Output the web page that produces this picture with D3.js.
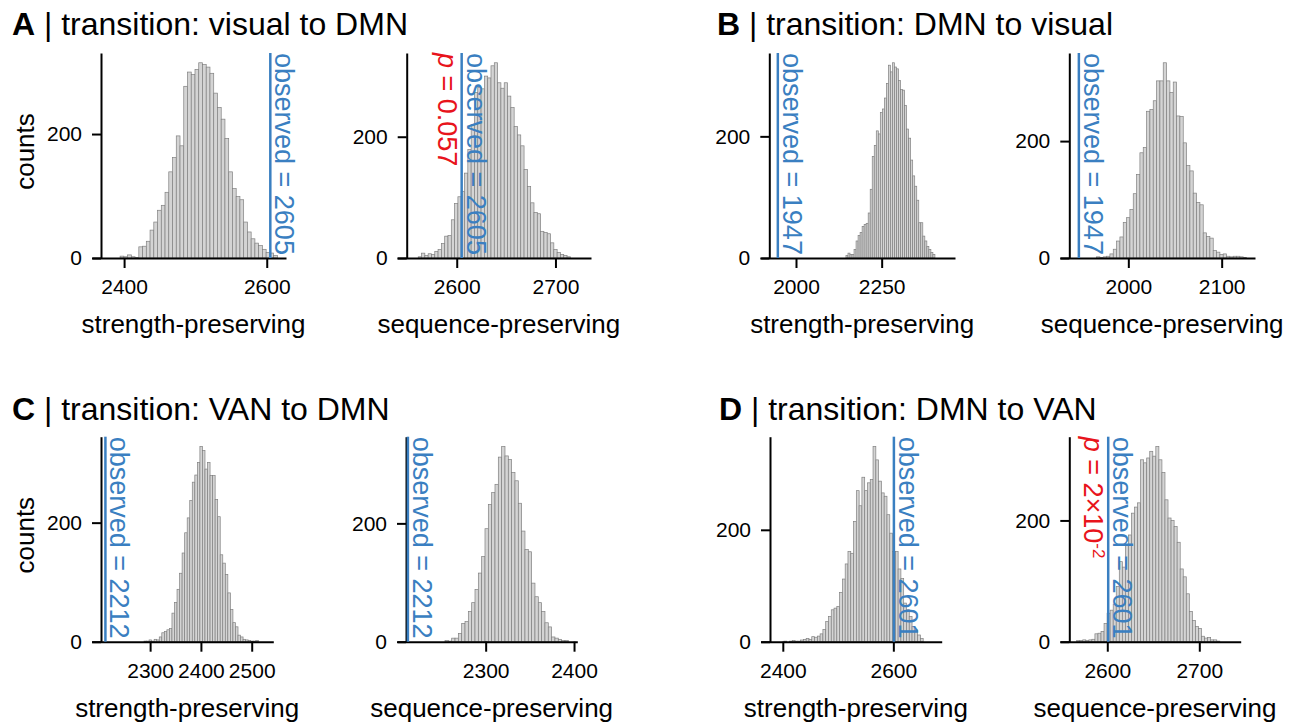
<!DOCTYPE html>
<html>
<head>
<meta charset="utf-8">
<script src="https://cdn.jsdelivr.net/npm/d3@7"></script>
<style>
  body { margin: 0; background: #fff; }
  svg { font-family: "Liberation Sans", Arial, Helvetica, sans-serif; }
</style>
</head>
<body>
<div id="chart"></div>
<script>
const width = 1299;
const height = 725;

// null-model counts per bin
const countsA1 = [3, 2, 5, 2, 1, 18, 19, 27, 45, 58, 77, 85, 106, 139, 162, 197, 181, 277, 300, 296, 304, 315, 312, 308, 298, 266, 243, 224, 193, 139, 112, 99, 94, 58, 42, 31, 24, 20, 14, 9, 8, 4];
const countsA2 = [2, 8, 4, 7, 6, 11, 14, 24, 36, 37, 63, 90, 101, 110, 140, 179, 220, 273, 281, 279, 300, 297, 317, 322, 289, 280, 289, 267, 248, 217, 203, 185, 146, 118, 91, 75, 73, 44, 42, 40, 25, 14, 9, 6, 4, 2];
const countsB1 = [4, 8, 6, 6, 14, 28, 37, 42, 52, 55, 57, 74, 113, 167, 185, 209, 204, 239, 245, 263, 287, 317, 306, 321, 314, 311, 292, 277, 276, 251, 212, 197, 161, 135, 118, 95, 58, 58, 36, 28, 19, 14, 9, 6];
const countsB2 = [2, 1, 2, 3, 7, 15, 29, 36, 61, 69, 83, 110, 143, 180, 189, 251, 254, 269, 303, 303, 334, 303, 283, 301, 243, 242, 197, 158, 149, 111, 95, 91, 43, 37, 34, 13, 10, 6, 7, 3, 2, 3, 3, 2, 1];
const countsC1 = [1, 1, 3, 1, 4, 3, 8, 15, 17, 20, 22, 48, 66, 88, 115, 149, 183, 208, 237, 268, 280, 301, 328, 321, 290, 301, 279, 279, 239, 210, 146, 132, 113, 82, 54, 32, 25, 11, 8, 4, 3, 2, 1, 1, 2];
const countsC2 = [2, 1, 6, 6, 14, 31, 34, 51, 66, 88, 116, 144, 191, 232, 252, 266, 312, 330, 314, 308, 286, 272, 234, 187, 156, 152, 99, 76, 66, 51, 32, 25, 8, 6, 4, 2, 2];
const countsD1 = [1, 0, 1, 2, 1, 1, 3, 4, 6, 4, 9, 8, 10, 14, 22, 36, 45, 57, 60, 63, 88, 112, 139, 161, 158, 215, 270, 243, 294, 270, 284, 290, 349, 325, 287, 266, 260, 227, 194, 161, 161, 130, 113, 69, 57, 45, 27, 21, 12, 6];
const countsD2 = [2, 2, 3, 2, 3, 4, 13, 14, 17, 30, 47, 52, 62, 91, 132, 123, 160, 176, 212, 222, 229, 300, 295, 303, 314, 306, 322, 300, 279, 234, 204, 200, 190, 164, 120, 107, 79, 50, 35, 25, 22, 9, 6, 7, 3, 3, 1];

const allCounts = [countsA1, countsA2, countsB1, countsB2, countsC1, countsC2, countsD1, countsD2];
const binStarts = [2394.4, 2561, 2145.8, 1966, 2288, 2254, 2402, 2566.7];
const binWidths = [5.25, 3.35, 5.9, 3.57, 5.0, 3.77, 5.04, 3.31];
const observed = [2605, 2605, 1947, 1947, 2212, 2212, 2601, 2601];
const xDomains = [[2355, 2627], [2539.5, 2736], [1897, 2464], [1926.8, 2135.7], [2185, 2542.5], [2200, 2403.7], [2360, 2687.5], [2548.6, 2745]];
const xTicks = [[2400, 2600], [2600, 2700], [2000, 2250], [2000, 2100], [2300, 2400, 2500], [2300, 2400], [2400, 2600], [2600, 2700]];
const yTicks = [0, 200];
const xLabels = ["strength-preserving", "sequence-preserving"];
const pValues = [null, "0.057", null, null, null, null, null, "2×10"];
const pExponents = [null, null, null, null, null, null, null, "-2"];
const panelLetters = ["A", "B", "C", "D"];
const panelTitles = ["transition: visual to DMN", "transition: DMN to visual", "transition: VAN to DMN", "transition: DMN to VAN"];

const blue = "#3a7fc1";
const red = "#e8141c";

// axes frames: [spine x, axis left, axis right]
const frames = [
  [101, 92, 286], [406.7, 397, 591], [769.3, 760.7, 955], [1069.3, 1060, 1255],
  [101, 91.7, 273.3], [406, 397.3, 577.3], [770, 760.7, 941.7], [1069.3, 1060, 1240.7]
];
const rows = [{ top: 53, base: 258 }, { top: 436.7, base: 641.7 }];
const titlePos = [[12, 35], [717, 35], [12, 420], [719, 420]];

const svg = d3.select("#chart").append("svg").attr("width", width).attr("height", height);

// panel titles
panelLetters.forEach((letter, i) => {
  const t = svg.append("text")
    .attr("x", titlePos[i][0]).attr("y", titlePos[i][1])
    .attr("font-size", 32).attr("fill", "#000");
  t.append("tspan").attr("font-weight", "bold").text(letter);
  t.append("tspan").text(" | " + panelTitles[i]);
});

allCounts.forEach((counts, i) => {
  const [spineX, left, right] = frames[i];
  const row = rows[Math.floor(i / 4)];

  const x = d3.scaleLinear().domain(xDomains[i]).range([left, right]);
  const y = d3.scaleLinear().domain([0, d3.max(counts) * 1.05]).range([row.base, row.top]);

  const g = svg.append("g");

  // histogram bars
  g.selectAll("rect")
    .data(counts)
    .enter()
    .append("rect")
    .attr("x", (d, k) => x(binStarts[i] + k * binWidths[i]))
    .attr("y", (d) => y(d))
    .attr("width", x(binWidths[i]) - x(0))
    .attr("height", (d) => row.base - y(d))
    .attr("fill", "#d4d4d4")
    .attr("stroke", "#808080")
    .attr("stroke-width", 0.7);

  // axes
  const xAxis = d3.axisBottom(x).tickValues(xTicks[i]).tickSize(10).tickSizeOuter(0).tickPadding(11).tickFormat(d3.format("d"));
  const yAxis = d3.axisLeft(y).tickValues(yTicks).tickSize(9).tickSizeOuter(0).tickPadding(10);

  const gx = g.append("g").attr("transform", `translate(0,${row.base})`).call(xAxis);
  const gy = g.append("g").attr("transform", `translate(${spineX},0)`).call(yAxis);
  [gx, gy].forEach((ax) => {
    ax.attr("font-size", 21).attr("font-family", null);
    ax.select(".domain").attr("stroke-width", 2);
    ax.selectAll(".tick line").attr("stroke-width", 2);
    ax.selectAll(".tick text").attr("fill", "#000");
  });

  // x label
  g.append("text")
    .attr("x", (spineX + right) / 2)
    .attr("y", row.base + 75)
    .attr("text-anchor", "middle")
    .attr("font-size", 26)
    .text(xLabels[i % 2]);

  // y label on first column only
  if (i % 4 === 0) {
    g.append("text")
      .attr("transform", `translate(34,${(row.top + row.base) / 2 - 4}) rotate(-90)`)
      .attr("text-anchor", "middle")
      .attr("font-size", 26)
      .text("counts");
  }

  // observed value line
  const ox = x(observed[i]);
  g.append("line")
    .attr("x1", ox).attr("x2", ox)
    .attr("y1", row.base).attr("y2", row.top)
    .attr("stroke", blue).attr("stroke-width", 2.5);

  g.append("text")
    .attr("transform", `translate(${ox + 5},${row.top}) rotate(90)`)
    .attr("font-size", 27)
    .attr("fill", blue)
    .text("observed = " + observed[i]);

  if (pValues[i]) {
    const pt = g.append("text")
      .attr("transform", `translate(${ox - 24},${row.top}) rotate(90)`)
      .attr("font-size", 27)
      .attr("fill", red);
    pt.append("tspan").attr("font-style", "italic").text("p");
    pt.append("tspan").text(" = " + pValues[i]);
    if (pExponents[i]) {
      pt.append("tspan").attr("font-size", 17).attr("baseline-shift", "super").text(pExponents[i]);
    }
  }
});
</script>
</body>
</html>
